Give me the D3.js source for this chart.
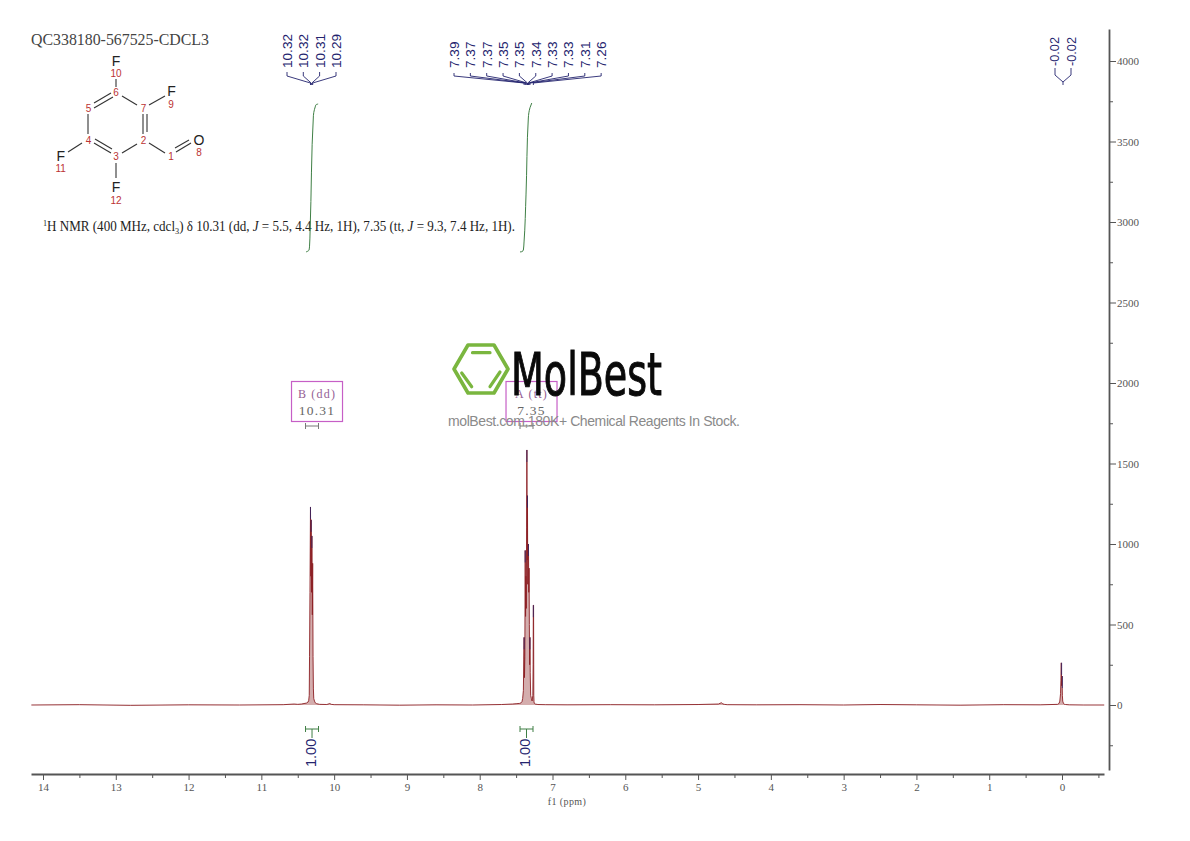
<!DOCTYPE html>
<html><head><meta charset="utf-8">
<script src="https://cdn.jsdelivr.net/npm/d3@7/dist/d3.min.js"></script>
<style>html,body{margin:0;padding:0;background:#fff}svg{display:block}</style>
</head><body><svg id="c" width="1190" height="841"></svg>
<script>
const xTicksMajor=[14,13,12,11,10,9,8,7,6,5,4,3,2,1,0];
const xTicksMinor=[13.5,12.5,11.5,10.5,9.5,8.5,7.5,6.5,5.5,4.5,3.5,2.5,1.5,0.5,-0.5];
const yTicksMajor=[4000,3500,3000,2500,2000,1500,1000,500,0];
const yTicksMinor=[3750,3250,2750,2250,1750,1250,750,250,-250];
const spectrumPpm=[14.16,13.5,12.8,12,11.3,10.7,10.55,10.5,10.45,10.38,10.36,10.35,10.342,10.338,10.332,10.325,10.32,10.316,10.31,10.306,10.3,10.295,10.29,10.285,10.28,10.27,10.26,10.24,10.2,10.1,10.06,10.04,10,9.6,9.1,8.6,8.1,7.7,7.55,7.5,7.45,7.43,7.42,7.41,7.4,7.395,7.39,7.385,7.38,7.375,7.37,7.365,7.36,7.355,7.352,7.348,7.344,7.34,7.335,7.33,7.326,7.322,7.318,7.314,7.31,7.306,7.3,7.29,7.28,7.27,7.266,7.263,7.26,7.257,7.254,7.25,7.24,7.2,7.1,6.8,6.2,5.6,5,4.72,4.68,4.66,4.64,4.6,4.2,3.6,3,2.5,2,1.4,0.8,0.3,0.06,0.04,0.03,0.02,0.015,0.01,0.005,0,-0.005,-0.01,-0.02,-0.03,-0.05,-0.1,-0.3,-0.58];
const spectrumInt=[0,2,-2,1,0,2,6,4,6,12,18,26,60,300,700,1230,800,1150,700,1050,560,880,300,100,40,24,14,8,4,3,9,4,2,1,-1,1,0,3,6,8,10,14,20,40,90,280,420,170,300,960,550,800,600,1100,1584,900,1300,750,950,1000,700,850,500,250,420,200,60,40,25,60,250,620,620,60,20,10,6,3,2,1,2,1,3,6,14,7,4,2,1,2,0,3,1,-1,2,1,4,10,24,70,150,262,120,180,60,24,10,5,3,1,0,0];
const peakPpm=[10.325,10.316,10.306,7.39,7.375,7.352,7.344,7.33,7.31,7.263,0.005,-0.005];
const peakInt=[1230,1150,1050,420,960,1584,1300,1000,420,620,262,180];
const shiftLabelsAld=["10.32","10.32","10.31","10.29"];
const shiftPpmAld=[10.325,10.316,10.306,10.295];
const shiftLabelsAr=["7.39","7.37","7.37","7.35","7.35","7.34","7.33","7.33","7.31","7.26"];
const shiftPpmAr=[7.39,7.375,7.365,7.352,7.344,7.34,7.33,7.322,7.31,7.263];
const shiftLabelsTms=["-0.02","-0.02"];
const integralAldPpm=[10.386,10.375,10.345,10.338,10.33,10.285,10.27,10.26,10.25,10.22];
const integralAldInt=[2814,2816,2826,2850,2950,3660,3700,3715,3728,3733];
const integralArPpm=[7.446,7.42,7.4,7.391,7.364,7.332,7.309,7.285];
const integralArInt=[2814,2816,2826,2876,3168,3646,3710,3739];
const integralValues=["1.00","1.00"];
const integralCenter=[10.304,7.357];
const multipletNames=["B (dd)","A (tt)"];
const multipletShifts=["10.31","7.35"];

const svg=d3.select("#c");
const x=d3.scaleLinear().domain([14,0]).range([43,1062]);
const y=d3.scaleLinear().domain([0,4000]).range([705,61]);
const serif="'Liberation Serif',serif", sans="'Liberation Sans',Arial,sans-serif";
const navy="#24246e", green="#3f7f45", mag="#c65fc6", axisGrey="#555";

// title
svg.append("text").attr("x",31).attr("y",45).attr("font-family",serif).attr("font-size",16)
 .attr("textLength",178).attr("lengthAdjust","spacingAndGlyphs").attr("fill","#444").text("QC338180-567525-CDCL3");

// molecule
const mol=svg.append("g");
const bonds=[[116,79,116,87],[122,96,137,105],[149,105,165,96],[143,114,143,134],[147,114,147,132],[111,93,94,103],[113,97,94,108],[88,114,88,134],[94,143,111,153],[95,139,112,149],[82,143,68,152],[122,153,137,144],[149,143,165,153],[176,152,191,143],[175,148,189,140],[116,163,116,178]];
mol.selectAll("line").data(bonds).join("line").attr("x1",d=>d[0]).attr("y1",d=>d[1]).attr("x2",d=>d[2]).attr("y2",d=>d[3]).attr("stroke","#333").attr("stroke-width",1.1);
const atoms=[["F",116,66,14,"#222"],["10",116,77,10,"#b33"],["6",116,96,10,"#b33"],["7",143.5,112,10,"#b33"],["F",171.5,96,14,"#222"],["9",171,108,10,"#b33"],["5",88.5,112,10,"#b33"],["4",88.5,144,10,"#b33"],["3",116,160,10,"#b33"],["2",143.5,144,10,"#b33"],["1",171,160,10,"#b33"],["O",199,145,14,"#222"],["8",199,156,10,"#b33"],["F",60.7,161,14,"#222"],["11",60.7,172,10,"#b33"],["F",116,192,14,"#222"],["12",116,204,10,"#b33"]];
mol.selectAll("text").data(atoms).join("text").attr("x",d=>d[1]).attr("y",d=>d[2]).attr("font-size",d=>d[3]).attr("fill",d=>d[4]).attr("font-family",sans).attr("text-anchor","middle").text(d=>d[0]);

// assignment text
const t=svg.append("text").attr("x",43).attr("y",231).attr("font-family",serif).attr("font-size",14.3).attr("fill","#222").attr("textLength",472).attr("lengthAdjust","spacingAndGlyphs");
[["1",{dy:-5,fs:9}],["H NMR (400 MHz, cdcl",{dy:5}],["3",{dy:3,fs:9}],[") δ 10.31 (dd, ",{dy:-3}],["J",{i:1}],[" = 5.5, 4.4 Hz, 1H), 7.35 (tt, ",{}],["J",{i:1}],[" = 9.3, 7.4 Hz, 1H).",{}]].forEach(([s,o])=>{
 const ts=t.append("tspan").text(s); if(o.dy)ts.attr("dy",o.dy); if(o.fs)ts.attr("font-size",o.fs); if(o.i)ts.attr("font-style","italic");});

// integral curves
const line=d3.line().x(d=>x(d[0])).y(d=>y(d[1]));
[[integralAldPpm,integralAldInt],[integralArPpm,integralArInt]].forEach(([p,v])=>{
 svg.append("path").attr("d",d3.line().x(d=>x(d[0])).y(d=>y(d[1])).curve(d3.curveMonotoneY)(p.map((q,i)=>[q,v[i]]))).attr("fill","none").attr("stroke",green).attr("stroke-width",1);
});

// multiplet boxes
integralCenter.forEach((c,i)=>{
 const bx=x(c), cx=bx+5;
 const g=svg.append("g");
 g.append("rect").attr("x",cx-25.5).attr("y",381.5).attr("width",51).attr("height",40).attr("fill","none").attr("stroke",mag).attr("stroke-width",1.2);
 g.append("text").attr("x",cx).attr("y",398).attr("text-anchor","middle").attr("font-family",serif).attr("font-size",12).attr("letter-spacing",1.2).attr("fill","#946094").text(multipletNames[i]);
 g.append("text").attr("x",cx).attr("y",415).attr("text-anchor","middle").attr("font-family",serif).attr("font-size",13.5).attr("letter-spacing",1.2).attr("fill","#666").text(multipletShifts[i]);
 g.append("path").attr("d",`M${bx-6.5},423V429M${bx-6.5},426H${bx+6.5}M${bx+6.5},423V429`).attr("fill","none").attr("stroke","#777").attr("stroke-width",1);
});

// watermark logo
const logo=svg.append("g");
logo.append("path").attr("d","M454,369L468,345H494L508,369L494,393H468Z").attr("fill","none").attr("stroke","#7ab63f").attr("stroke-width",3.6).attr("stroke-linejoin","round");
logo.append("path").attr("d","M472.5,352.7H490M461.7,373L471.7,386.7M500,372L490,386.7").attr("stroke","#7ab63f").attr("stroke-width",3.2).attr("stroke-linecap","round").attr("fill","none");
logo.append("text").attr("x",511).attr("y",395).attr("font-family","'DejaVu Sans Condensed','DejaVu Sans',sans-serif").attr("font-size",58).attr("stroke","#0a0a0a").attr("stroke-width",1).attr("textLength",151).attr("lengthAdjust","spacingAndGlyphs").attr("fill","#0a0a0a").text("MolBest");
logo.append("text").attr("x",448).attr("y",426).attr("font-family",sans).attr("font-size",14).attr("textLength",292).attr("lengthAdjust","spacing").attr("fill","#8a8a8a").text("molBest.com,180K+ Chemical Reagents In Stock.");

// spectrum
const pts=spectrumPpm.map((p,i)=>[p,spectrumInt[i]]);
svg.append("path").attr("d",d3.area().x(d=>x(d[0])).y0(y(0)).y1(d=>y(d[1]))(pts)).attr("fill","#b06a6a").attr("opacity",.55);
svg.append("path").attr("d",line(pts)).attr("fill","none").attr("stroke","#8c1f24").attr("stroke-width",1).attr("stroke-opacity",.9);
svg.append("g").selectAll("line").data(peakPpm.map((p,i)=>[p,peakInt[i]])).join("line")
 .attr("x1",d=>x(d[0])).attr("x2",d=>x(d[0])).attr("y1",d=>y(d[1])).attr("y2",d=>y(d[1])+12).attr("stroke",navy).attr("stroke-width",1).attr("opacity",.7);

// peak labels with connectors
function labels(names,ppm,centers,conv,top,bend){
 const g=svg.append("g");
 names.forEach((s,i)=>{
  const lx=centers[i];
  g.append("text").attr("transform",`translate(${lx+5},68) rotate(-90)`).attr("font-family",sans).attr("font-size",13.6).attr("fill",navy).text(s);
  g.append("path").attr("d",`M${lx},${top}V${bend}L${x(ppm[i])},${conv}V${conv+2}`).attr("fill","none").attr("stroke",navy).attr("stroke-width",.9);
 });
}
labels(shiftLabelsAld,shiftPpmAld,[287,303.3,319.6,336],83,72,76);
labels(shiftLabelsAr,shiftPpmAr,d3.range(10).map(i=>454+16.35*i),83,73,76);
const tmsG=svg.append("g");
shiftLabelsTms.forEach((s,i)=>{
 const lx=1054+16.7*i;
 tmsG.append("text").attr("transform",`translate(${lx+5},66) rotate(-90)`).attr("font-family",sans).attr("font-size",13.6).attr("textLength",29).attr("lengthAdjust","spacingAndGlyphs").attr("fill",navy).text(s);
});
tmsG.append("path").attr("d","M1055,68V75L1063,82V85M1071,68V75L1063,82").attr("fill","none").attr("stroke",navy).attr("stroke-width",.9);

// integral labels
integralCenter.forEach((c,i)=>{
 const bx=x(c);
 const g=svg.append("g");
 g.append("path").attr("d",`M${bx-6.5},726V732M${bx-6.5},729H${bx+6.5}M${bx+6.5},726V732M${bx},729V738`).attr("fill","none").attr("stroke",green).attr("stroke-width",1);
 g.append("text").attr("transform",`translate(${bx+3.5},767) rotate(-90)`).attr("font-family",sans).attr("font-size",14.5).attr("fill",navy).text(integralValues[i]);
});

// x axis
const xAxisScale=x.copy().domain([x.invert(31),x.invert(1104)]).range([31,1104]);
const gx=svg.append("g").attr("transform","translate(0,774)");
gx.call(d3.axisBottom(xAxisScale).tickValues(xTicksMajor).tickSize(6).tickPadding(3).tickFormat(d3.format("d")).tickSizeOuter(0));
const gx2=svg.append("g").attr("transform","translate(0,774)");
gx2.call(d3.axisBottom(xAxisScale).tickValues(xTicksMinor).tickSize(4).tickFormat("").tickSizeOuter(0));
gx2.select(".domain").remove();
svg.append("text").attr("x",567).attr("y",805).attr("text-anchor","middle").attr("font-family",serif).attr("font-size",10).attr("letter-spacing",.4).attr("fill","#555").text("f1 (ppm)");

// y axis
const yAxisScale=y.copy().domain([y.invert(770),y.invert(29)]).range([770,29]);
const gy=svg.append("g").attr("transform","translate(1109,0)");
gy.call(d3.axisRight(yAxisScale).tickValues(yTicksMajor).tickSize(7).tickPadding(1).tickFormat(d3.format("d")).tickSizeOuter(0));
const gy2=svg.append("g").attr("transform","translate(1109,0)");
gy2.call(d3.axisRight(yAxisScale).tickValues(yTicksMinor).tickSize(4).tickFormat("").tickSizeOuter(0));
gy2.select(".domain").remove();
[gx,gx2,gy,gy2].forEach(g=>{g.selectAll("line").attr("stroke",axisGrey);g.selectAll(".domain").attr("stroke",axisGrey).attr("stroke-width",1.8);
 g.selectAll("text").attr("font-family",serif).attr("font-size",11).attr("fill","#555");});
</script></body></html>
